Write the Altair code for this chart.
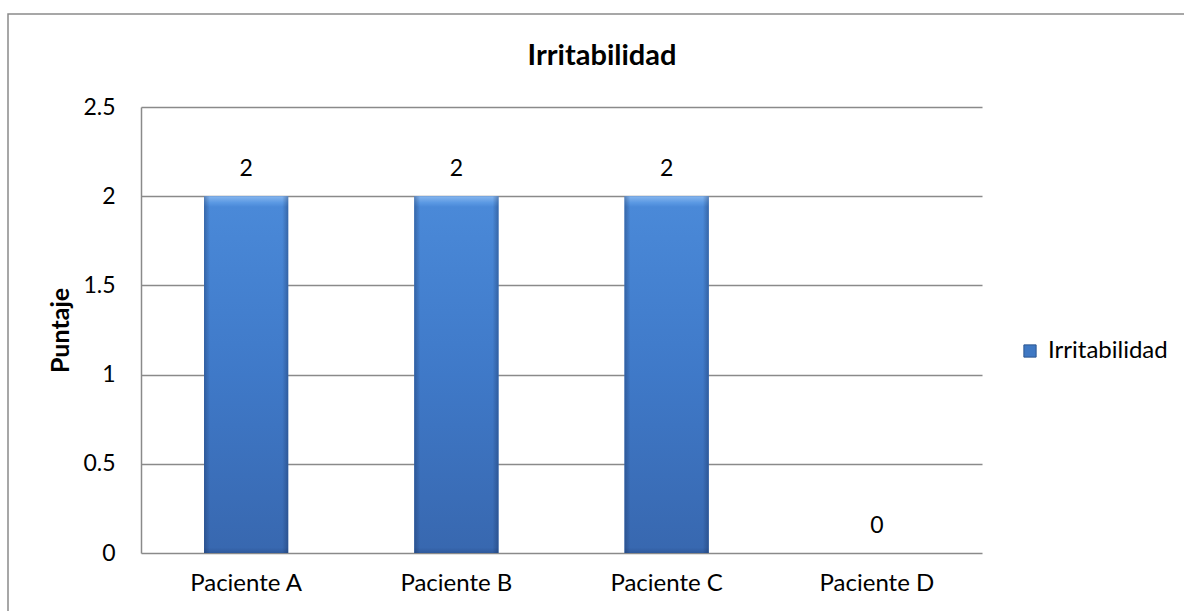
import altair as alt
import pandas as pd

# Puntaje de irritabilidad por paciente
pacientes = ["Paciente A", "Paciente B", "Paciente C", "Paciente D"]
puntajes = [2, 2, 2, 0]
serie = "Irritabilidad"
titulo = "Irritabilidad"
y_ticks = [0, 0.5, 1, 1.5, 2, 2.5]

df = pd.DataFrame({"Paciente": pacientes, "Puntaje": puntajes, "Serie": [serie] * len(pacientes)})

FONT = "Lato"
GRAY = "#8a8a8a"
W, H = 841, 446
PAD = {"left": 141, "top": 107, "right": 202, "bottom": 58}

# Relleno principal con biselado claro arriba
bar_fill = alt.Gradient(
    gradient="linear",
    stops=[
        alt.GradientStop(color="#86b6ee", offset=0),
        alt.GradientStop(color="#5b99e3", offset=0.018),
        alt.GradientStop(color="#4a89d8", offset=0.03),
        alt.GradientStop(color="#3f79c8", offset=0.5),
        alt.GradientStop(color="#3868b0", offset=0.985),
        alt.GradientStop(color="#2f5a9c", offset=1),
    ],
    x1=0, x2=0, y1=0, y2=1,
)
# Sombreado lateral del biselado
side_shade = alt.Gradient(
    gradient="linear",
    stops=[
        alt.GradientStop(color="rgba(20,40,80,0.35)", offset=0),
        alt.GradientStop(color="rgba(20,40,80,0.0)", offset=0.07),
        alt.GradientStop(color="rgba(20,40,80,0.0)", offset=0.93),
        alt.GradientStop(color="rgba(20,40,80,0.35)", offset=1),
    ],
    x1=0, x2=1, y1=0, y2=0,
)

x_enc = alt.X(
    "Paciente:N",
    sort=pacientes,
    scale=alt.Scale(paddingInner=0.6, paddingOuter=0.3),
    axis=alt.Axis(
        title=None, labelAngle=0, ticks=False, domain=False,
        labelFont=FONT, labelFontSize=24, labelColor="#000000", labelPadding=18,
    ),
)
y_enc = alt.Y(
    "Puntaje:Q",
    scale=alt.Scale(domain=[0, 2.5], nice=False),
    axis=alt.Axis(
        values=y_ticks, format="~g", ticks=False,
        domain=True, domainColor=GRAY, domainWidth=1.5,
        grid=True, gridColor=GRAY, gridWidth=1.5,
        labelFont=FONT, labelFontSize=23, labelColor="#000000", labelPadding=26,
        title="Puntaje", titleFont=FONT, titleFontSize=25, titleFontWeight="bold",
        titleColor="#000000", titleAngle=-90, titleX=-81, titleY=H / 2,
        titleAlign="center", titleBaseline="middle",
    ),
)

base = alt.Chart(df)

# Capa base: define la leyenda de la serie
legend_bars = base.mark_bar().encode(
    x=x_enc,
    y=y_enc,
    color=alt.Color(
        "Serie:N",
        scale=alt.Scale(domain=[serie], range=["#3f78c3"]),
        legend=alt.Legend(
            title=None, orient="none", legendX=877, legendY=232,
            symbolType="square", symbolSize=150, symbolStrokeColor="#2c5590",
            symbolStrokeWidth=1, labelFont=FONT, labelFontSize=24,
            labelColor="#000000", labelOffset=6,
        ),
    ),
)

# Barras con degradado y biselado
bars = base.mark_bar(fill=bar_fill).encode(x=x_enc, y=y_enc)
bars_shade = base.mark_bar(fill=side_shade).encode(x=x_enc, y=y_enc)

labels = base.mark_text(
    baseline="bottom", dy=-15, font=FONT, fontSize=23, color="#000000"
).encode(x=x_enc, y=y_enc, text=alt.Text("Puntaje:Q", format="~g"))

single = alt.Data(values=[{}])

# Marco exterior del gráfico
frame = alt.Chart(single).mark_rect(
    fill="transparent", stroke=GRAY, strokeWidth=1.5
).encode(
    x=alt.value(-133), x2=alt.value(W + PAD["right"] + 20),
    y=alt.value(-93), y2=alt.value(H + PAD["bottom"] + 20),
)

# Título del gráfico
title = alt.Chart(single).mark_text(
    text=titulo, font=FONT, fontSize=29, fontWeight="bold", color="#000000",
    align="center", baseline="alphabetic",
).encode(x=alt.value(461), y=alt.value(-42))

chart = alt.layer(frame, title, legend_bars, bars, bars_shade, labels).properties(
    width=W,
    height=H,
    padding=PAD,
    autosize=alt.AutoSizeParams(type="none"),
    background="#ffffff",
).configure_view(stroke=None)

chart.save("out.html", embed_options={"renderer": "svg", "actions": False})
